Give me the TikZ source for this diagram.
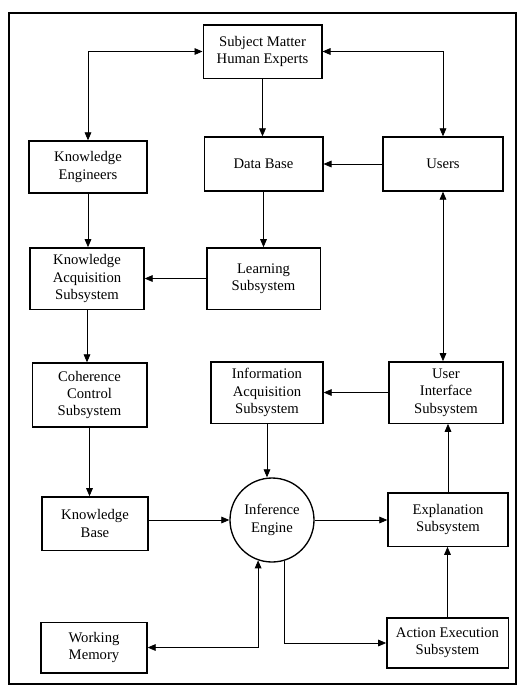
\documentclass[tikz,border=0pt]{standalone}
\usepackage{fontspec}
\setmainfont{Liberation Serif}
\usetikzlibrary{arrows.meta}
\usetikzlibrary{calc}

\tikzset{
  blk/.style={draw, line width=1pt, align=center, inner sep=1pt, font=\fontsize{11}{13}\selectfont},
  conn/.style={line width=0.6pt, -{Triangle[length=6pt,width=5pt]}},
  biconn/.style={line width=0.6pt, {Triangle[length=6pt,width=5pt]}-{Triangle[length=6pt,width=5pt]}}
}

\begin{document}
\begin{tikzpicture}[x=0.75pt,y=0.75pt,yscale=-1,xscale=1]
\useasboundingbox (0,0) rectangle (529,687);

%Shape: Rectangle (frame)
\draw [line width=1pt] (9,13) rectangle (516,684);

%Shape: Rectangle
\node [blk, minimum width=89pt, minimum height=40pt] (sme) at (262.5,51.5) {Subject Matter\\Human Experts};
\node [blk, minimum width=88.5pt, minimum height=39pt] (ke) at (88,167) {Knowledge\\Engineers};
\node [blk, minimum width=89pt, minimum height=40.5pt] (db) at (263.5,164) {Data Base};
\node [blk, minimum width=90pt, minimum height=40.5pt] (users) at (443,164) {Users};
\node [blk, minimum width=85.5pt, minimum height=46pt] (kas) at (87,278.5) {Knowledge\\Acquisition\\Subsystem};
\node [blk, minimum width=85pt, minimum height=46pt] (learn) at (263.5,278.5) {Learning\\Subsystem};
\node [blk, minimum width=86pt, minimum height=48pt] (ccs) at (89.5,395) {Coherence\\Control\\Subsystem};
\node [blk, minimum width=84pt, minimum height=46pt] (ias) at (267,392.5) {Information\\Acquisition\\Subsystem};
\node [blk, minimum width=85.5pt, minimum height=46pt] (uis) at (446,392.5) {User\\Interface\\Subsystem};
\node [blk, minimum width=79.5pt, minimum height=40pt] (kb) at (95,523.5) {Knowledge\\Base};
%Shape: Circle
\node [blk, circle, minimum size=63pt] (ie) at (272,520) {Inference\\Engine};
\node [blk, minimum width=90pt, minimum height=40pt] (expl) at (448,519.5) {Explanation\\Subsystem};
\node [blk, minimum width=79.5pt, minimum height=38pt] (wm) at (94,647.5) {Working\\Memory};
\node [blk, minimum width=91pt, minimum height=37.5pt] (aes) at (447.5,643) {Action Execution\\Subsystem};

%Straight Lines
\draw [biconn] (ke.north) |- (sme.west);
\draw [biconn] (users.north) |- (sme.east);
\draw [conn] (sme.south) -- (sme.south |- db.north);
\draw [conn] (users.west) -- (db.east);
\draw [conn] (ke.south) -- (ke.south |- kas.north);
\draw [conn] (db.south) -- (db.south |- learn.north);
\draw [conn] (learn.west) -- (learn.west -| kas.east);
\draw [conn] (kas.south) -- (kas.south |- ccs.north);
\draw [biconn] (users.south) -- (users.south |- uis.north);
\draw [conn] (uis.west) -- (uis.west -| ias.east);
\draw [conn] (ccs.south) -- (ccs.south |- kb.north);
\draw [conn] (ias.south) -- (ias.south |- ie.north);
\draw [conn] (kb.east |- ie.west) -- (ie.west);
\draw [conn] (ie.east) -- (ie.east -| expl.west);
\draw [conn] (expl.north) -- (expl.north |- uis.south);
\draw [conn] (aes.north) -- (aes.north |- expl.south);
\draw [conn] (ie.-73) |- (aes.west);
\draw [biconn] (wm.east) -| (ie.-109);

\end{tikzpicture}
\end{document}
